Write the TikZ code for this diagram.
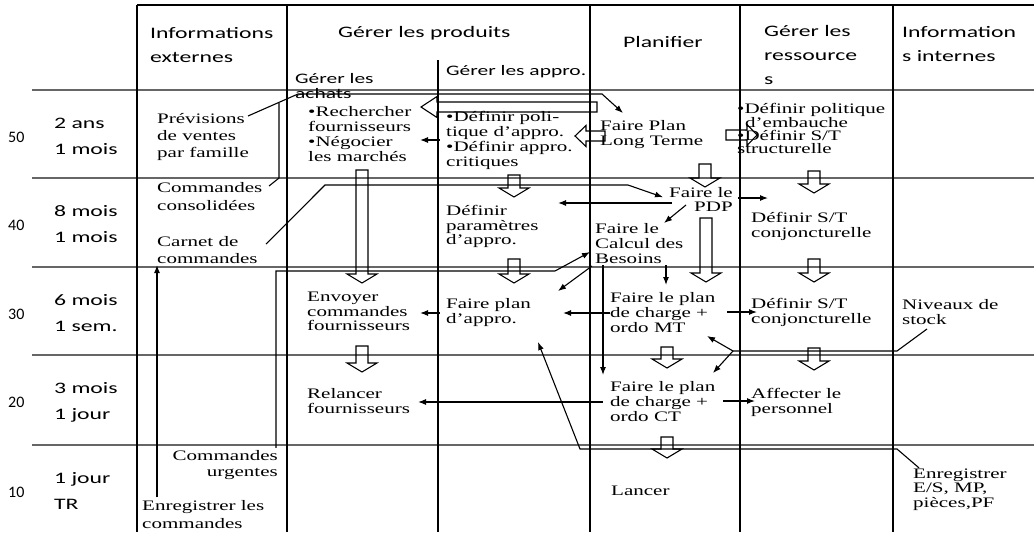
\documentclass[tikz,border=0pt]{standalone}
\usepackage{fontspec}
\setmainfont{Liberation Serif}[FakeStretch=1.45]
\newfontfamily\entete{Carlito}[FakeStretch=1.48]
\newfontfamily\chiffres{Carlito}
\usetikzlibrary{arrows.meta,calc}

\tikzset{
  grille/.style={line width=1.3pt},
  rangee/.style={line width=1.6pt,black!60},
  lien/.style={line width=1.1pt},
  creuse/.style={line width=1.1pt},
  titre/.style={anchor=north west,inner sep=0pt,align=left,font=\entete\fontsize{16}{24}\selectfont},
  soustitre/.style={titre,font=\entete\fontsize{14.5}{24}\selectfont},
  duree/.style={anchor=north west,inner sep=0pt,align=left,font=\entete\fontsize{16}{26}\selectfont},
  numero/.style={duree,font=\chiffres\fontsize{16}{26}\selectfont},
  tache/.style={anchor=north west,inner sep=0pt,align=left,font=\fontsize{14.5}{#1}\selectfont},
  tache/.default=15
}

% fleches creuses (x, haut, pointe) et (y, queue, pointe, base de la tete)
\newcommand{\flechebas}[3]{%
  \draw[creuse] (#1-6,#2) -- (#1-6,#3-9) -- (#1-15,#3-9) -- (#1,#3) -- (#1+15,#3-9) -- (#1+6,#3-9) -- (#1+6,#2) -- cycle;}
\newcommand{\flecheh}[4]{%
  \draw[creuse] (#2,#1-5) -- (#4,#1-5) -- (#4,#1-10.5) -- (#3,#1) -- (#4,#1+10.5) -- (#4,#1+5) -- (#2,#1+5) -- cycle;}

\begin{document}
\begin{tikzpicture}[x=1pt,y=-1pt,>={Latex[length=8pt,width=6pt]}]
\fill[white] (0,0) rectangle (1034,533);
\useasboundingbox (0,0) rectangle (1034,533);

% grille
\foreach \hy in {90,178,267,355,445}
  \draw[rangee] (32,\hy) -- (1034,\hy);
\draw[grille] (137,5) -- (1034,5);
\foreach \cx in {137,287,590,740,893}
  \draw[grille] (\cx,5) -- (\cx,532);
\draw[grille] (438,60) -- (438,532);

% en-tetes
\node[titre] (infoext) at (150,21.2) {\strut Informations\\externes};
\node[titre] (produits) at (338,20.7) {\strut Gérer les produits};
\node[titre] (planifier) at (623,30.2) {\strut Planifier};
\node[titre] (ressources) at (764,19.2) {\strut Gérer les\\ressource\\s};
\node[titre] (infoint) at (902,20.2) {\strut Information\\s internes};
\node[soustitre] (achats) at (295,66.2) {\strut Gérer les\\[-9pt]achats};
\node[soustitre] (appro) at (446,58.2) {\strut Gérer les appro.};

% horizons
\foreach \rang/\haut/\premier/\second in {50/90/2 ans/1 mois,40/178/8 mois/1 mois,30/267/6 mois/1 sem.,20/355/3 mois/1 jour,10/445/1 jour/TR}{
  \node[numero] (num\rang) at (8,\haut+33.8) {\strut\rang};
  \node[duree] (per\rang) at (54,\haut+19.8) {\strut\premier\\\second};
}

% activites
\node[tache=17] (prevision) at (157,111) {\strut Prévisions\\de ventes\\par famille};
\node[tache] (rechercher) at (308,105.5) {\strut•Rechercher\\fournisseurs\\•Négocier\\les marchés};
\node[tache] (politique) at (446,110.5) {\strut•Définir poli-\\tique d’appro.\\•Définir appro.\\critiques};
\node[tache] (planLT) at (600,119.5) {\strut Faire Plan\\Long Terme};
\node[tache=13] (embauche) at (737,103.1) {•Définir politique\\\hspace*{8pt}d’embauche\\•Définir S/T\\structurelle};
\node[tache=18] (consolidees) at (157,179.4) {\strut Commandes\\consolidées};
\node[tache=17] (carnet) at (157,234.1) {\strut Carnet de\\commandes};
\node[tache=14] (parametres) at (446,205.2) {\strut Définir\\paramètres\\d’appro.};
\node[tache=14,anchor=north east,align=right] (pdp) at (733,187.2) {\strut Faire le\\PDP};
\node[tache] (besoins) at (595,222.5) {\strut Faire le\\Calcul des\\Besoins};
\node[tache] (conjA) at (751,211.5) {\strut Définir S/T\\conjoncturelle};
\node[tache=14] (envoyer) at (307,291.2) {\strut Envoyer\\commandes\\fournisseurs};
\node[tache] (planAppro) at (446,297.5) {\strut Faire plan\\d’appro.};
\node[tache] (chargeMT) at (610,291.5) {\strut Faire le plan\\de charge +\\ordo MT};
\node[tache] (conjB) at (751,297.5) {\strut Définir S/T\\conjoncturelle};
\node[tache] (stock) at (902,298.5) {\strut Niveaux de\\stock};
\node[tache=14] (relancer) at (307,388.2) {\strut Relancer\\fournisseurs};
\node[tache] (chargeCT) at (610,380.5) {\strut Faire le plan\\de charge +\\ordo CT};
\node[tache=14] (affecter) at (751,388.2) {\strut Affecter le\\personnel};
\node[tache=16,anchor=north east,align=right] (urgentes) at (278,448.8) {\strut Commandes\\urgentes};
\node[tache=18] (enregCmd) at (142,497.4) {\strut Enregistrer les\\commandes};
\node[tache] (lancer) at (611,484.5) {\strut Lancer};
\node[tache=14.5] (enregES) at (913,467.9) {\strut Enregistrer\\E/S, MP,\\pièces,PF};

% flux d'informations
\draw[lien,->] ($(prevision.north west)+(91,5)$) -- (298,94) -- (602,94) -- ($(planLT.north west)+(23,-6.5)$);
\draw[lien] ($(consolidees.north west)+(112,6.6)$) -- (279,178) -- (279,103);
\draw[lien,->] ($(carnet.north west)+(109,10)$) -- (325,185) -- (628,185) -- ($(pdp.north east)+(-70,10)$);
\draw[lien,->] ($(urgentes.north east)+(-2,-1)$) -- (276,271) -- (555,271) -- ($(besoins.north west)+(-5,29.5)$);
\draw[lien,->] ($(enregCmd.north west)+(15,0)$) -- ($(carnet.north west)+(0,31)$);
\draw[lien,->] ($(enregES.north west)+(6,0)$) -- (897,449) -- (580,449) -- ($(planAppro.north west)+(92,44.5)$);
\draw[lien] ($(stock.north west)+(25,30.5)$) -- (897,351) -- (733,351) coordinate (fourche);
\draw[lien,->] (fourche) -- ($(chargeMT.north west)+(97,44.5)$);
\draw[lien,->] (fourche) -- ($(chargeCT.north west)+(103,-7.5)$);

% liens entre activites
\draw[lien,->] ($(politique.north west)+(-6,29.5)$) -- ($(rechercher.north west)+(112,34.5)$);
\draw[lien,->] ($(pdp.north east)+(-61,15.8)$) -- ($(parametres.north west)+(112,-2.2)$);
\draw[lien,->] ($(pdp.north east)+(5,10.8)$) -- ($(conjA.north west)+(17,-13.5)$);
\draw[lien,->] ($(pdp.north east)+(-47,17.8)$) -- ($(besoins.north west)+(69,0.5)$);
\draw[lien,->] ($(besoins.north west)+(-3,43.5)$) -- ($(planAppro.north west)+(112,-6.5)$);
\draw[lien,->] ($(chargeMT.north west)+(0,21.5)$) -- ($(planAppro.north west)+(117,15.5)$);
\draw[lien,->] ($(planAppro.north west)+(-6,15.5)$) -- ($(envoyer.north west)+(113,21.8)$);
\draw[lien,->] ($(chargeMT.north west)+(117,20.5)$) -- ($(conjB.north west)+(6,14.5)$);
\draw[lien,->] ($(chargeCT.north west)+(113,20.5)$) -- ($(affecter.north west)+(4,12.8)$);
\draw[lien,->] ($(chargeCT.north west)+(-7,21.5)$) -- ($(relancer.north west)+(111,13.8)$);
\draw[lien,->] ($(besoins.north west)+(71,42.5)$) -- ($(chargeMT.north west)+(56,-6.5)$);
\draw[lien,->] ($(besoins.north west)+(8,42.5)$) -- ($(chargeCT.north west)+(-7,-5.5)$);

% fleches creuses
\flechebas{362}{170}{283}
\flechebas{514}{175}{197}
\flechebas{514}{259}{283}
\flechebas{705}{164}{187}
\flechebas{814}{171}{193}
\flechebas{814}{259}{282}
\flechebas{706}{218}{282}
\flechebas{814}{348}{370}
\flechebas{362}{346}{372}
\flechebas{667}{347}{368}
\flechebas{667}{437}{458}
\flecheh{107}{597}{421}{437}
\flecheh{136}{605}{575}{586}
\flecheh{135}{726}{757}{747}
\end{tikzpicture}
\end{document}
